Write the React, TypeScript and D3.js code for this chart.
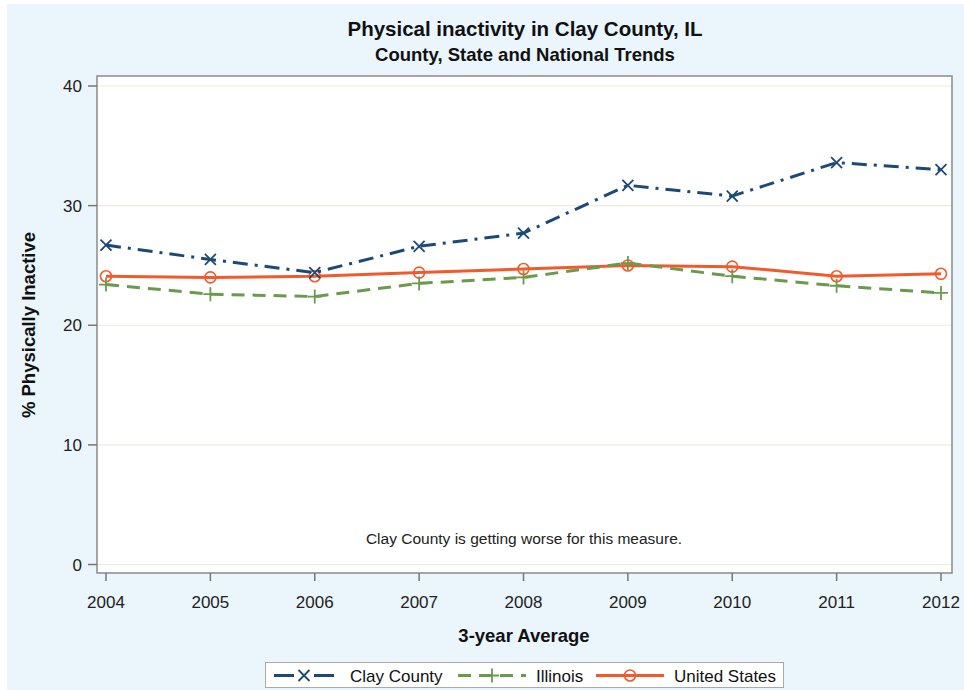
import React, { useRef, useEffect } from 'react'
import * as d3 from 'd3'

const years = [2004, 2005, 2006, 2007, 2008, 2009, 2010, 2011, 2012]
const clayCounty = [26.7, 25.5, 24.4, 26.6, 27.7, 31.7, 30.8, 33.6, 33.0]
const illinois = [23.4, 22.6, 22.4, 23.5, 24.0, 25.2, 24.1, 23.3, 22.7]
const unitedStates = [24.1, 24.0, 24.1, 24.4, 24.7, 25.0, 24.9, 24.1, 24.3]
const yTicks = [0, 10, 20, 30, 40]

const seriesNames = ['Clay County', 'Illinois', 'United States']

const W = 964
const H = 690
const FONT = '"Liberation Sans", Arial, sans-serif'

const App: React.FC = () => {
  const svgRef = useRef<SVGSVGElement>(null)

  useEffect(() => {
    if (!svgRef.current) return
    const svg = d3.select(svgRef.current)
    svg.selectAll('*').remove()

    // 背景
    svg.append('rect').attr('width', W).attr('height', H).attr('fill', '#ffffff')
    svg.append('rect')
      .attr('x', 7).attr('y', 4)
      .attr('width', W - 7).attr('height', H - 4)
      .attr('fill', '#eaf5fc')

    const plot = { left: 97, right: 952, top: 76, bottom: 573 }

    const x = d3.scaleLinear().domain([2004, 2012]).range([106, 941])
    const y = d3.scaleLinear().domain([0, 40]).range([564.5, 86])

    svg.append('rect')
      .attr('x', plot.left).attr('y', plot.top)
      .attr('width', plot.right - plot.left).attr('height', plot.bottom - plot.top)
      .attr('fill', '#ffffff')

    // 网格线
    svg.append('g').selectAll('line')
      .data(yTicks)
      .join('line')
      .attr('x1', plot.left).attr('x2', plot.right)
      .attr('y1', d => y(d)).attr('y2', d => y(d))
      .attr('stroke', '#efeadb').attr('stroke-width', 1.2)

    svg.append('rect')
      .attr('x', plot.left).attr('y', plot.top)
      .attr('width', plot.right - plot.left).attr('height', plot.bottom - plot.top)
      .attr('fill', 'none').attr('stroke', '#8a8a8a').attr('stroke-width', 1.5)

    // y 轴
    const yAxis = svg.append('g')
    yAxis.selectAll('line')
      .data(yTicks).join('line')
      .attr('x1', plot.left - 9).attr('x2', plot.left)
      .attr('y1', d => y(d)).attr('y2', d => y(d))
      .attr('stroke', '#777').attr('stroke-width', 1.5)
    yAxis.selectAll('text')
      .data(yTicks).join('text')
      .attr('x', plot.left - 15).attr('y', d => y(d))
      .attr('dy', '0.36em')
      .attr('text-anchor', 'end')
      .attr('font-family', FONT).attr('font-size', 17).attr('fill', '#222')
      .text(d => d)

    // x 轴
    const xAxis = svg.append('g')
    xAxis.selectAll('line')
      .data(years).join('line')
      .attr('x1', d => x(d)).attr('x2', d => x(d))
      .attr('y1', plot.bottom).attr('y2', plot.bottom + 8)
      .attr('stroke', '#777').attr('stroke-width', 1.5)
    xAxis.selectAll('text')
      .data(years).join('text')
      .attr('x', d => x(d)).attr('y', 608)
      .attr('text-anchor', 'middle')
      .attr('font-family', FONT).attr('font-size', 17).attr('fill', '#222')
      .text(d => d)

    // 标题
    svg.append('text')
      .attr('x', 525).attr('y', 36)
      .attr('text-anchor', 'middle')
      .attr('font-family', FONT).attr('font-size', 20.5).attr('font-weight', 'bold')
      .attr('fill', '#111')
      .text('Physical inactivity in Clay County, IL')
    svg.append('text')
      .attr('x', 525).attr('y', 61)
      .attr('text-anchor', 'middle')
      .attr('font-family', FONT).attr('font-size', 18.5).attr('font-weight', 'bold')
      .attr('fill', '#111')
      .text('County, State and National Trends')

    svg.append('text')
      .attr('transform', `translate(35, 325) rotate(-90)`)
      .attr('text-anchor', 'middle')
      .attr('font-family', FONT).attr('font-size', 18.5).attr('font-weight', 'bold')
      .attr('fill', '#111')
      .text('% Physically Inactive')

    svg.append('text')
      .attr('x', 524).attr('y', 642)
      .attr('text-anchor', 'middle')
      .attr('font-family', FONT).attr('font-size', 18.5).attr('font-weight', 'bold')
      .attr('fill', '#111')
      .text('3-year Average')

    svg.append('text')
      .attr('x', 524).attr('y', 544)
      .attr('text-anchor', 'middle')
      .attr('font-family', FONT).attr('font-size', 15.5).attr('fill', '#222')
      .text('Clay County is getting worse for this measure.')

    // 系列
    const series = [
      { name: seriesNames[0], values: clayCounty, color: '#1b4a78', dash: '15,7,3,7', marker: 'x' },
      { name: seriesNames[1], values: illinois, color: '#6a9a4c', dash: '13,8', marker: 'plus' },
      { name: seriesNames[2], values: unitedStates, color: '#f25a2c', dash: null, marker: 'circle' }
    ]

    const line = d3.line<number>()
      .x((_, i) => x(years[i]))
      .y(d => y(d))

    const drawMarker = (g: d3.Selection<SVGGElement, unknown, null, undefined>, kind: string, cx: number, cy: number, color: string) => {
      const s = 5.5
      if (kind === 'x') {
        g.append('path')
          .attr('d', `M${cx - s},${cy - s}L${cx + s},${cy + s}M${cx - s},${cy + s}L${cx + s},${cy - s}`)
          .attr('stroke', color).attr('stroke-width', 1.8).attr('fill', 'none')
      } else if (kind === 'plus') {
        const p = 7
        g.append('path')
          .attr('d', `M${cx - p},${cy}L${cx + p},${cy}M${cx},${cy - p}L${cx},${cy + p}`)
          .attr('stroke', color).attr('stroke-width', 1.8).attr('fill', 'none')
      } else {
        g.append('circle')
          .attr('cx', cx).attr('cy', cy).attr('r', 5.5)
          .attr('stroke', color).attr('stroke-width', 1.6).attr('fill', 'none')
      }
    }

    // 绘制顺序：美国、伊利诺伊、Clay
    ;[series[2], series[1], series[0]].forEach(s => {
      const g = svg.append('g')
      g.append('path')
        .attr('d', line(s.values))
        .attr('fill', 'none')
        .attr('stroke', s.color)
        .attr('stroke-width', 3)
        .attr('stroke-dasharray', s.dash)
      s.values.forEach((v, i) => drawMarker(g, s.marker, x(years[i]), y(v), s.color))
    })

    // 图例
    const legend = svg.append('g')
    legend.append('rect')
      .attr('x', 265.5).attr('y', 662.5)
      .attr('width', 518).attr('height', 25)
      .attr('fill', '#ffffff').attr('stroke', '#aaa').attr('stroke-width', 1)

    const legendItems = [
      { s: series[0], x0: 274, x1: 334, tx: 350, dash: '13,6,8,0,0,8,13' },
      { s: series[1], x0: 458, x1: 526, tx: 536, dash: '13,8' },
      { s: series[2], x0: 596, x1: 664, tx: 674, dash: null }
    ]
    const ly = 675.5
    legendItems.forEach(it => {
      legend.append('line')
        .attr('x1', it.x0).attr('x2', it.x1)
        .attr('y1', ly).attr('y2', ly)
        .attr('stroke', it.s.color).attr('stroke-width', 3)
        .attr('stroke-dasharray', it.s.marker === 'x' ? '20,20,20' : it.dash)
      drawMarker(legend, it.s.marker, (it.x0 + it.x1) / 2, ly, it.s.color)
      legend.append('text')
        .attr('x', it.tx).attr('y', ly).attr('dy', '0.36em')
        .attr('font-family', FONT).attr('font-size', 17).attr('fill', '#111')
        .text(it.s.name)
    })
  }, [])

  return (
    <svg
      ref={svgRef}
      width={W}
      height={H}
      style={{ position: 'absolute', left: 0, top: 0, display: 'block' }}
    />
  )
}

export default App
